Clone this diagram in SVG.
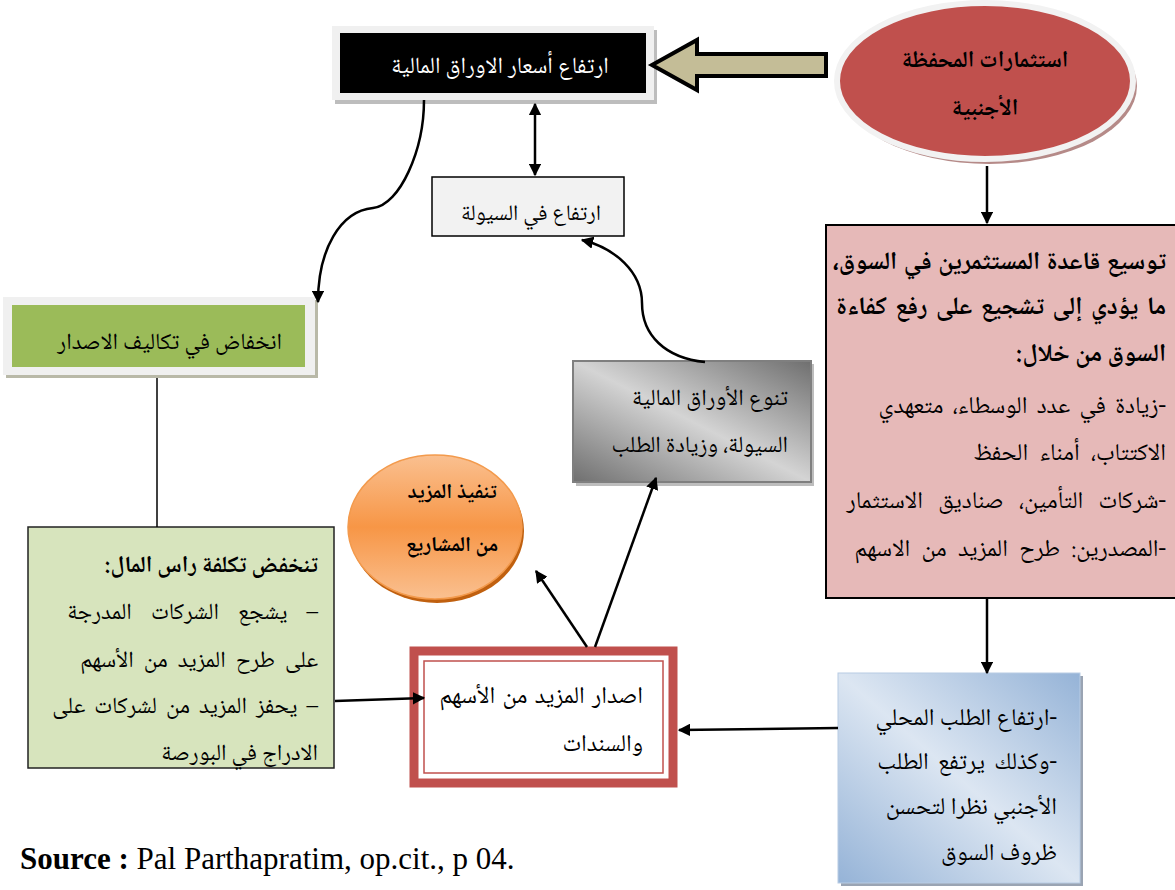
<svg xmlns="http://www.w3.org/2000/svg" width="1175" height="890" viewBox="0 0 1175 890">
<style>
.ar{font-family:"Noto Naskh Arabic","Amiri","DejaVu Sans",sans-serif;direction:rtl;text-anchor:start;fill:#000}
.b{font-weight:bold}
.ln{fill:none;stroke:#000;stroke-width:2.5}
</style>
<defs>
<marker id="ah" viewBox="0 0 10 10" refX="9" refY="5" markerWidth="5" markerHeight="5" orient="auto-start-reverse" markerUnits="strokeWidth">
<path d="M0,0 L10,5 L0,10 z" fill="#000"/>
</marker>
<linearGradient id="gBlue" x1="0" y1="1" x2="1" y2="0">
<stop offset="0" stop-color="#95B3D7"/>
<stop offset="0.5" stop-color="#DCE6F2"/>
<stop offset="1" stop-color="#95B3D7"/>
</linearGradient>
<linearGradient id="gGrey" x1="0" y1="1" x2="1" y2="0">
<stop offset="0" stop-color="#6f6f6f"/>
<stop offset="0.5" stop-color="#d4d4d4"/>
<stop offset="1" stop-color="#6f6f6f"/>
</linearGradient>
<linearGradient id="gOr" x1="0" y1="0" x2="0" y2="1">
<stop offset="0" stop-color="#FAC090"/>
<stop offset="0.5" stop-color="#F79646"/>
<stop offset="1" stop-color="#FAC090"/>
</linearGradient>
</defs>

<g id="n-prices">
<rect x="335" y="30" width="322" height="74" fill="#bdbdbd"/>
<rect x="332" y="26" width="322" height="74" fill="#f0f0f0"/>
<rect x="340" y="33" width="306" height="60" fill="#000"/>
<text class="ar" x="500" y="73" font-size="23" style="fill:#fff;text-anchor:middle">ارتفاع أسعار الاوراق المالية</text>
</g>

<g id="n-foreign">
<ellipse cx="989" cy="86" rx="148" ry="78" fill="#b58a88"/>
<ellipse cx="985" cy="81" rx="148" ry="78" fill="#C0504D" stroke="#f2f2f2" stroke-width="6"/>
<text class="ar b" x="985" y="67" font-size="23" style="text-anchor:middle">استثمارات المحفظة</text>
<text class="ar b" x="985" y="115" font-size="23" style="text-anchor:middle">الأجنبية</text>
</g>

<g id="n-liquidity">
<rect x="432" y="177" width="192" height="59" fill="#F2F2F2" stroke="#000" stroke-width="1.5"/>
<text class="ar" x="531" y="220" font-size="22" style="text-anchor:middle">ارتفاع في السيولة</text>
</g>

<g id="n-base">
<rect x="826" y="225" width="360" height="373" fill="#E6B9B8" stroke="#000" stroke-width="2"/>
<text class="ar b" x="1166" y="269" font-size="25" word-spacing="1">توسيع قاعدة المستثمرين في السوق،</text>
<text class="ar b" x="1166" y="314" font-size="25" word-spacing="3">ما يؤدي إلى تشجيع على رفع كفاءة</text>
<text class="ar b" x="1166" y="361" font-size="25">السوق من خلال:</text>
<text class="ar" x="1166" y="413" font-size="24" word-spacing="4">-زيادة في عدد الوسطاء، متعهدي</text>
<text class="ar" x="1166" y="460" font-size="24" word-spacing="6">الاكتتاب، أمناء الحفظ</text>
<text class="ar" x="1166" y="508" font-size="24" word-spacing="10">-شركات التأمين، صناديق الاستثمار</text>
<text class="ar" x="1166" y="556" font-size="24" word-spacing="6">-المصدرين: طرح المزيد من الاسهم</text>
</g>

<g id="n-demand">
<rect x="841" y="676" width="242" height="210" fill="#9aa4b3"/>
<rect x="838" y="673" width="242" height="210" fill="url(#gBlue)" stroke="#b8cce4" stroke-width="1"/>
<text class="ar" x="1057" y="725" font-size="24">-ارتفاع الطلب المحلي</text>
<text class="ar" x="1057" y="769" font-size="24" word-spacing="4">-وكذلك يرتفع الطلب</text>
<text class="ar" x="1057" y="814" font-size="24">الأجنبي نظرا لتحسن</text>
<text class="ar" x="1057" y="860" font-size="24">ظروف السوق</text>
</g>

<g id="n-issue">
<rect x="414" y="651" width="259" height="132" fill="#fff" stroke="#C0504D" stroke-width="9"/>
<rect x="424" y="661" width="239" height="112" fill="none" stroke="#C0504D" stroke-width="1.5"/>
<text class="ar" x="643" y="703" font-size="24" word-spacing="2">اصدار المزيد من الأسهم</text>
<text class="ar" x="643" y="751" font-size="24">والسندات</text>
</g>

<g id="n-projects">
<ellipse cx="437" cy="531" rx="87" ry="72" fill="#c0600f"/>
<ellipse cx="435" cy="527" rx="87" ry="72" fill="url(#gOr)" stroke="#f39a4c" stroke-width="1.5"/>
<text class="ar b" x="452" y="498" font-size="21" style="text-anchor:middle">تنفيذ المزيد</text>
<text class="ar b" x="452" y="551" font-size="21" style="text-anchor:middle">من المشاريع</text>
</g>

<g id="n-variety">
<rect x="576" y="364" width="238" height="122" fill="#bdbdbd"/>
<rect x="573" y="361" width="238" height="121" fill="url(#gGrey)" stroke="#7f7f7f" stroke-width="2"/>
<text class="ar" x="788" y="405" font-size="23">تنوع الأوراق المالية</text>
<text class="ar" x="788" y="452" font-size="23">السيولة، وزيادة الطلب</text>
</g>

<g id="n-costs">
<rect x="6" y="300" width="312" height="78" fill="#b9b9a8"/>
<rect x="3" y="297" width="312" height="78" fill="#f0f0f0"/>
<rect x="12" y="305" width="293" height="62" fill="#9BBB59"/>
<text class="ar" x="282" y="349" font-size="23">انخفاض في تكاليف الاصدار</text>
</g>

<g id="n-capital">
<rect x="28" y="527" width="306" height="241" fill="#D7E4BD" stroke="#222" stroke-width="1.5"/>
<text class="ar b" x="318" y="572" font-size="23">تنخفض تكلفة راس المال:</text>
<text class="ar" x="318" y="619" font-size="23" word-spacing="14">–  يشجع الشركات المدرجة</text>
<text class="ar" x="318" y="667" font-size="23" word-spacing="5">على طرح المزيد من الأسهم</text>
<text class="ar" x="318" y="713" font-size="23" word-spacing="4">– يحفز المزيد من لشركات على</text>
<text class="ar" x="318" y="760" font-size="23">الادراج في البورصة</text>
</g>

<g id="connectors">
<path class="ln" d="M424,100 C424,150 400,205 373,208 C340,211 318,250 318,302" marker-end="url(#ah)"/>
<line class="ln" x1="535" y1="104" x2="535" y2="175" marker-start="url(#ah)" marker-end="url(#ah)"/>
<path class="ln" d="M705,362 C665,358 642,335 642,303 C642,272 615,248 582,240" marker-end="url(#ah)"/>
<line class="ln" x1="987" y1="166" x2="987" y2="223" marker-end="url(#ah)"/>
<line class="ln" x1="987" y1="599" x2="987" y2="673" marker-end="url(#ah)"/>
<line class="ln" x1="838" y1="728" x2="679" y2="730" marker-end="url(#ah)"/>
<line class="ln" x1="335" y1="701" x2="424" y2="698" marker-end="url(#ah)"/>
<line class="ln" x1="587" y1="647" x2="536" y2="571" marker-end="url(#ah)"/>
<line class="ln" x1="595" y1="647" x2="656" y2="478" marker-end="url(#ah)"/>
<line x1="157" y1="378" x2="157" y2="527" stroke="#000" stroke-width="1.5"/>
<polygon points="652,65 697,40 697,54 826,54 826,76 697,76 697,90" fill="#C4BD97" stroke="#000" stroke-width="4" stroke-linejoin="miter"/>
</g>

<g id="source">
<text x="20" y="869" font-family="Liberation Serif, serif" font-size="31"><tspan font-weight="bold">Source :</tspan> Pal Parthapratim, op.cit., p 04.</text>
</g>
</svg>
